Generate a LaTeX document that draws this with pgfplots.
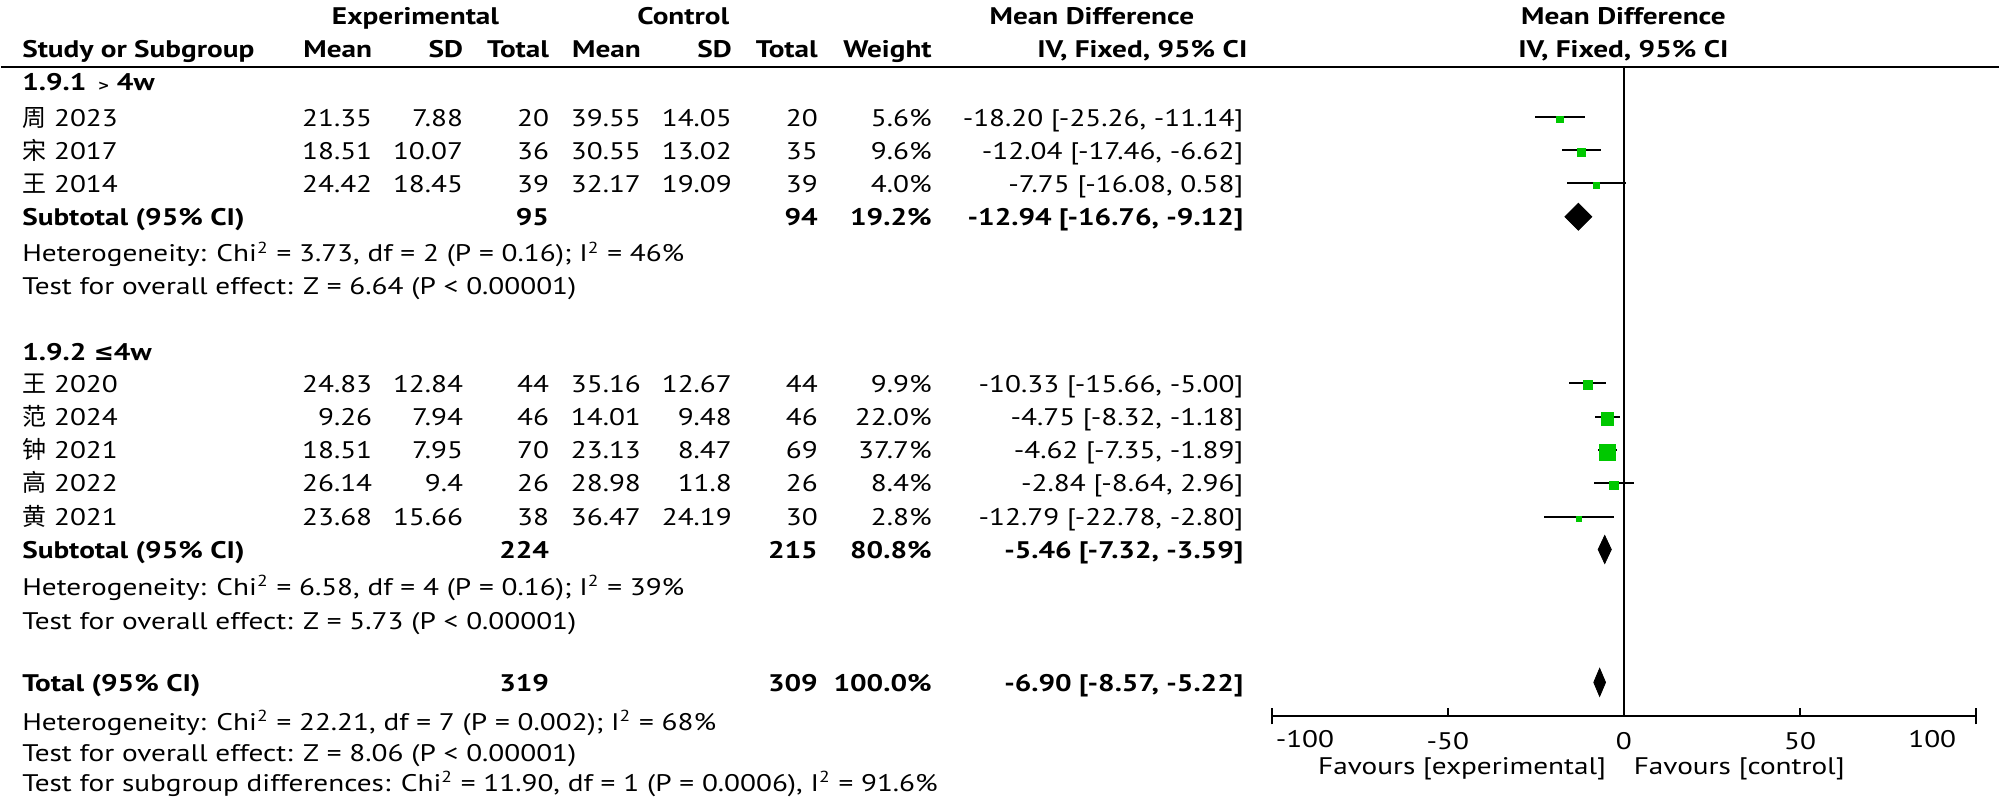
\documentclass[border=0pt]{standalone}
\usepackage{fontspec}
\setmainfont{PT Sans}[FakeStretch=1.22]
\newfontfamily\cjk{Noto Sans CJK SC}
\newfontfamily\djv{DejaVu Sans}
\usepackage{pgfplots}
\usepackage{pgfplotstable}
\pgfplotsset{compat=1.18}

\definecolor{sqgreen}{RGB}{0,200,0}

% study estimates: mean difference, CI, row position (px from top), weight
\pgfplotstableread{
est lo hi y w
-18.20 -25.26 -11.14 -117 5.6
-12.04 -17.46 -6.62 -150 9.6
-7.75 -16.08 0.58 -183 4.0
-10.33 -15.66 -5.00 -383 9.9
-4.75 -8.32 -1.18 -417 22.0
-4.62 -7.35 -1.89 -450 37.7
-2.84 -8.64 2.96 -483 8.4
-12.79 -22.78 -2.80 -517 2.8
}\studies

% text helpers (x in px, baseline y in px from top)
\newcommand{\R}[3]{\node[anchor=base east,inner sep=0pt] at (axis cs:#1,-#2) {#3};}
\newcommand{\Lf}[3]{\node[anchor=base west,inner sep=0pt] at (axis cs:#1,-#2) {#3};}
\newcommand{\C}[3]{\node[anchor=base,inner sep=0pt] at (axis cs:#1,-#2) {#3};}
\newcommand{\data}[9]{\R{372}{#1}{#2}\R{463}{#1}{#3}\R{549}{#1}{#4}\R{641}{#1}{#5}\R{732}{#1}{#6}\R{818}{#1}{#7}\R{932}{#1}{#8}\R{1244}{#1}{#9}}

\begin{document}
\fontsize{12}{14}\selectfont
\begin{tikzpicture}
% canvas for the table text
\begin{axis}[
  scale only axis, width=1000pt, height=400.5pt,
  xmin=0, xmax=2000, ymin=-801, ymax=0,
  hide axis, clip=false,
]
\path (axis cs:0,0) rectangle (axis cs:2000,-801);
\addplot[black, line width=0.9pt] coordinates {(0,-67) (2000,-67)};

% headers
\C{415}{25}{\bfseries Experimental}
\C{683}{25}{\bfseries Control}
\C{1092}{25}{\bfseries Mean Difference}
\C{1624}{25}{\bfseries Mean Difference}
\Lf{21}{58}{\bfseries Study or Subgroup}
\R{372}{58}{\bfseries Mean}
\R{463}{58}{\bfseries SD}
\R{549}{58}{\bfseries Total}
\R{641}{58}{\bfseries Mean}
\R{732}{58}{\bfseries SD}
\R{818}{58}{\bfseries Total}
\R{932}{58}{\bfseries Weight}
\R{1248}{58}{\bfseries IV, Fixed, 95\% CI}
\C{1624}{58}{\bfseries IV, Fixed, 95\% CI}

% subgroup 1
\Lf{21}{91}{\bfseries 1.9.1 \,{\djv\fontsize{7}{7}\selectfont >} 4w}
\Lf{21}{127}{{\cjk 周} 2023}
\data{127}{21.35}{7.88}{20}{39.55}{14.05}{20}{5.6\%}{-18.20 [-25.26, -11.14]}
\Lf{21}{160}{{\cjk 宋} 2017}
\data{160}{18.51}{10.07}{36}{30.55}{13.02}{35}{9.6\%}{-12.04 [-17.46, -6.62]}
\Lf{21}{193}{{\cjk 王} 2014}
\data{193}{24.42}{18.45}{39}{32.17}{19.09}{39}{4.0\%}{-7.75 [-16.08, 0.58]}
\Lf{21}{226}{\bfseries Subtotal (95\% CI)}
\R{549}{226}{\bfseries 95}
\R{818}{226}{\bfseries 94}
\R{932}{226}{\bfseries 19.2\%}
\R{1244}{226}{\bfseries -12.94 [-16.76, -9.12]}
\Lf{21}{262}{Heterogeneity: Chi\textsuperscript{2} = 3.73, df = 2 (P = 0.16); I\textsuperscript{2} = 46\%}
\Lf{21}{295}{Test for overall effect: Z = 6.64 (P < 0.00001)}

% subgroup 2
\Lf{21}{361}{\bfseries 1.9.2 {\djv ≤}4w}
\Lf{21}{393}{{\cjk 王} 2020}
\data{393}{24.83}{12.84}{44}{35.16}{12.67}{44}{9.9\%}{-10.33 [-15.66, -5.00]}
\Lf{21}{426}{{\cjk 范} 2024}
\data{426}{9.26}{7.94}{46}{14.01}{9.48}{46}{22.0\%}{-4.75 [-8.32, -1.18]}
\Lf{21}{459}{{\cjk 钟} 2021}
\data{459}{18.51}{7.95}{70}{23.13}{8.47}{69}{37.7\%}{-4.62 [-7.35, -1.89]}
\Lf{21}{492}{{\cjk 高} 2022}
\data{492}{26.14}{9.4}{26}{28.98}{11.8}{26}{8.4\%}{-2.84 [-8.64, 2.96]}
\Lf{21}{526}{{\cjk 黄} 2021}
\data{526}{23.68}{15.66}{38}{36.47}{24.19}{30}{2.8\%}{-12.79 [-22.78, -2.80]}
\Lf{21}{559}{\bfseries Subtotal (95\% CI)}
\R{549}{559}{\bfseries 224}
\R{818}{559}{\bfseries 215}
\R{932}{559}{\bfseries 80.8\%}
\R{1244}{559}{\bfseries -5.46 [-7.32, -3.59]}
\Lf{21}{596}{Heterogeneity: Chi\textsuperscript{2} = 6.58, df = 4 (P = 0.16); I\textsuperscript{2} = 39\%}
\Lf{21}{630}{Test for overall effect: Z = 5.73 (P < 0.00001)}

% total
\Lf{21}{692}{\bfseries Total (95\% CI)}
\R{549}{692}{\bfseries 319}
\R{818}{692}{\bfseries 309}
\R{932}{692}{\bfseries 100.0\%}
\R{1244}{692}{\bfseries -6.90 [-8.57, -5.22]}
\Lf{21}{731}{Heterogeneity: Chi\textsuperscript{2} = 22.21, df = 7 (P = 0.002); I\textsuperscript{2} = 68\%}
\Lf{21}{762}{Test for overall effect: Z = 8.06 (P < 0.00001)}
\Lf{21}{792}{Test for subgroup differences: Chi\textsuperscript{2} = 11.90, df = 1 (P = 0.0006), I\textsuperscript{2} = 91.6\%}

% forest axis captions
\R{1607}{775}{Favours [experimental]}
\Lf{1634}{775}{Favours [control]}
\end{axis}

% forest plot
\begin{axis}[
  at={(636pt,42pt)}, anchor=south west,
  scale only axis, width=352.5pt, height=358.5pt,
  xmin=-100, xmax=100, ymin=-717, ymax=0,
  axis x line*=bottom, axis y line=none,
  x axis line style={line width=1pt},
  xtick={-50,0,50},
  xticklabels={-50,0,50},
  tick align=inside, major tick length=4pt,
  extra x ticks={-100,100},
  extra x tick labels={\makebox[0pt][l]{\hspace{2pt}-100},\makebox[0pt][r]{100\hspace{10pt}}},
  extra x tick style={tick align=center, major tick length=8pt,
    xticklabel style={yshift=5pt}},
  every tick/.style={black, line width=1pt},
  xticklabel style={inner sep=0pt, anchor=north, yshift=-8pt},
  clip=false,
]
\addplot[black, line width=0.7pt] coordinates {(0,-67) (0,-717)};
\addplot[draw=none, mark=none, forget plot,
  error bars/.cd, x dir=both, x explicit, error mark=none,
  error bar style={draw=black, line width=1pt}]
  table[x=est, y=y, x error plus expr=\thisrow{hi}-\thisrow{est},
        x error minus expr=\thisrow{est}-\thisrow{lo}] {\studies};
\addplot[scatter, only marks, mark=square*,
  scatter/use mapped color={draw=sqgreen, fill=sqgreen},
  visualization depends on={0.6*sqrt(\thisrow{w})+0.3 \as \msize},
  scatter/@pre marker code/.append style={/tikz/mark size=\msize}]
  table[x=est, y expr=\thisrow{y}-2.5] {\studies};
% pooled estimates
\addplot[black, fill=black] coordinates {(-16.76,-217) (-12.94,-203.5) (-9.12,-217) (-12.94,-230.5)} -- cycle;
\addplot[black, fill=black] coordinates {(-7.32,-550) (-5.46,-536) (-3.59,-550) (-5.46,-564)} -- cycle;
\addplot[black, fill=black] coordinates {(-8.57,-683) (-6.90,-669) (-5.22,-683) (-6.90,-697)} -- cycle;
\end{axis}
\end{tikzpicture}
\end{document}
